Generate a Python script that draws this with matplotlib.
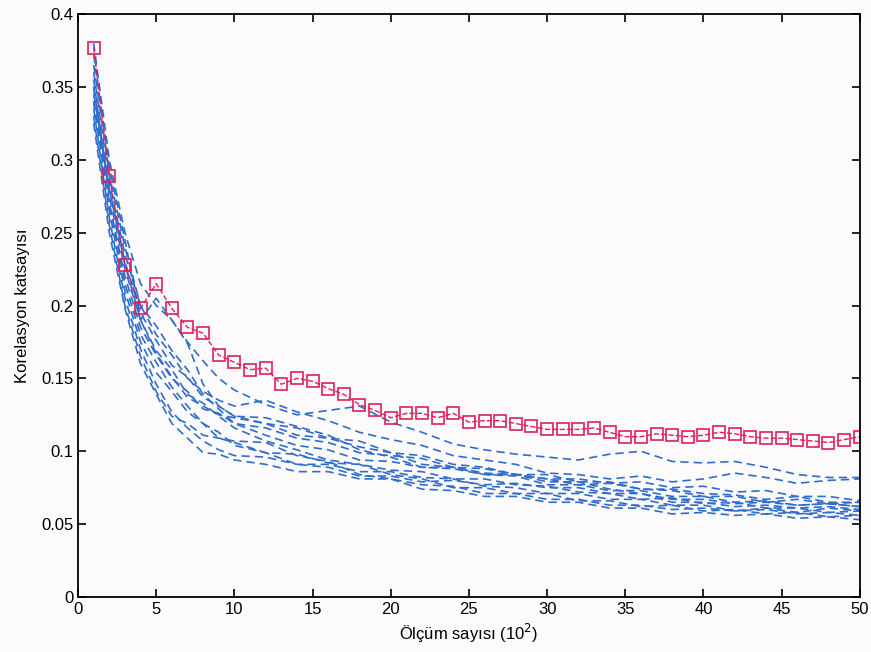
import matplotlib
matplotlib.use("Agg")
import matplotlib.pyplot as plt

# x positions (10^2 measurements) for the red series
red_x = list(range(1, 51))
red_y = [0.377, 0.289, 0.228, 0.198, 0.215, 0.198, 0.185, 0.181, 0.166, 0.161,
         0.156, 0.157, 0.146, 0.150, 0.148, 0.143, 0.139, 0.132, 0.128, 0.123,
         0.126, 0.126, 0.123, 0.126, 0.120, 0.121, 0.121, 0.119, 0.117, 0.115,
         0.115, 0.115, 0.116, 0.113, 0.110, 0.110, 0.112, 0.111, 0.110, 0.111,
         0.113, 0.112, 0.110, 0.109, 0.109, 0.108, 0.107, 0.106, 0.108, 0.110]

# blue runs, sampled at these x positions
blue_x = [1, 2, 3, 4, 5, 6, 7, 8, 9, 10, 12, 14, 16, 18, 20, 22, 24, 26, 28, 30,
          32, 34, 36, 38, 40, 42, 44, 46, 48, 50]

b1 = [0.372, 0.295, 0.245, 0.190, 0.205, 0.190, 0.175, 0.162, 0.150, 0.142, 0.132, 0.125, 0.128, 0.131, 0.120,
      0.113, 0.105, 0.101, 0.098, 0.096, 0.094, 0.098, 0.100, 0.093, 0.092, 0.093, 0.089, 0.084, 0.082, 0.082]
b2 = [0.360, 0.285, 0.235, 0.200, 0.180, 0.166, 0.150, 0.141, 0.135, 0.131, 0.135, 0.127, 0.121, 0.113, 0.108,
      0.104, 0.097, 0.094, 0.091, 0.085, 0.084, 0.081, 0.083, 0.079, 0.081, 0.085, 0.082, 0.078, 0.080, 0.081]
b3 = [0.350, 0.270, 0.220, 0.185, 0.166, 0.150, 0.141, 0.129, 0.126, 0.119, 0.116, 0.109, 0.106, 0.099, 0.097,
      0.095, 0.089, 0.088, 0.084, 0.081, 0.077, 0.078, 0.074, 0.074, 0.071, 0.070, 0.067, 0.069, 0.065, 0.065]
b4 = [0.380, 0.300, 0.250, 0.215, 0.200, 0.190, 0.174, 0.146, 0.131, 0.124, 0.123, 0.117, 0.111, 0.101, 0.096,
      0.089, 0.088, 0.084, 0.083, 0.077, 0.077, 0.073, 0.073, 0.069, 0.069, 0.065, 0.066, 0.063, 0.064, 0.062]
b5 = [0.340, 0.265, 0.210, 0.175, 0.154, 0.141, 0.127, 0.119, 0.109, 0.106, 0.099, 0.098, 0.092, 0.091, 0.087,
      0.086, 0.081, 0.081, 0.077, 0.076, 0.072, 0.071, 0.067, 0.068, 0.064, 0.065, 0.061, 0.061, 0.058, 0.059]
b6 = [0.335, 0.260, 0.205, 0.170, 0.146, 0.127, 0.116, 0.107, 0.101, 0.097, 0.096, 0.091, 0.091, 0.086, 0.086,
      0.082, 0.081, 0.076, 0.075, 0.071, 0.071, 0.067, 0.067, 0.063, 0.063, 0.059, 0.060, 0.057, 0.058, 0.056]
b7 = [0.355, 0.275, 0.225, 0.190, 0.169, 0.156, 0.139, 0.133, 0.124, 0.116, 0.107, 0.101, 0.094, 0.091, 0.084,
      0.081, 0.075, 0.075, 0.071, 0.071, 0.066, 0.066, 0.062, 0.063, 0.059, 0.060, 0.057, 0.058, 0.055, 0.056]
b8 = [0.345, 0.280, 0.230, 0.195, 0.176, 0.159, 0.151, 0.137, 0.131, 0.124, 0.119, 0.111, 0.109, 0.103, 0.099,
      0.091, 0.089, 0.084, 0.084, 0.081, 0.081, 0.078, 0.079, 0.075, 0.076, 0.072, 0.073, 0.069, 0.069, 0.066]
b9 = [0.330, 0.255, 0.200, 0.165, 0.141, 0.124, 0.119, 0.111, 0.109, 0.107, 0.106, 0.097, 0.093, 0.084, 0.081,
      0.077, 0.076, 0.071, 0.071, 0.067, 0.067, 0.063, 0.063, 0.060, 0.061, 0.059, 0.061, 0.058, 0.061, 0.059]
b10 = [0.365, 0.290, 0.240, 0.200, 0.186, 0.169, 0.156, 0.139, 0.129, 0.119, 0.111, 0.104, 0.101, 0.094, 0.093,
       0.089, 0.089, 0.085, 0.084, 0.079, 0.079, 0.074, 0.071, 0.065, 0.065, 0.062, 0.063, 0.061, 0.062, 0.060]
b11 = [0.340, 0.270, 0.215, 0.180, 0.161, 0.144, 0.131, 0.119, 0.113, 0.104, 0.099, 0.091, 0.089, 0.083, 0.083,
       0.079, 0.080, 0.077, 0.078, 0.075, 0.075, 0.071, 0.071, 0.067, 0.067, 0.064, 0.065, 0.063, 0.064, 0.062]
b12 = [0.350, 0.280, 0.228, 0.190, 0.167, 0.151, 0.137, 0.131, 0.125, 0.123, 0.119, 0.116, 0.109, 0.107, 0.099,
       0.097, 0.091, 0.089, 0.084, 0.084, 0.079, 0.079, 0.074, 0.073, 0.069, 0.069, 0.065, 0.067, 0.064, 0.065]
b13 = [0.325, 0.250, 0.198, 0.160, 0.139, 0.119, 0.109, 0.099, 0.098, 0.094, 0.091, 0.086, 0.086, 0.081, 0.081,
       0.074, 0.073, 0.069, 0.069, 0.065, 0.065, 0.061, 0.061, 0.057, 0.058, 0.056, 0.057, 0.054, 0.055, 0.053]
blue_runs = [b1, b2, b3, b4, b5, b6, b7, b8, b9, b10, b11, b12, b13]

plt.rcParams['font.family'] = ['Liberation Sans', 'DejaVu Sans']

fig = plt.figure(figsize=(8.71, 6.52), dpi=100, facecolor='#fcfafb')
ax = fig.add_axes([0.0896, 0.0844, 0.8975, 0.894])
ax.set_facecolor('#fcfafb')

for run in blue_runs:
    ax.plot(blue_x, run, linestyle='--', color='#2f6dcc', linewidth=1.2, dashes=(5, 3))

ax.plot(red_x, red_y, linestyle='--', color='#e0205a', linewidth=1.0,
        marker='s', markersize=9, markerfacecolor='none', markeredgecolor='#e0205a',
        markeredgewidth=1.2)

ax.set_xlim(0, 50)
ax.set_ylim(0, 0.4)
ax.set_xticks(range(0, 51, 5))
ax.set_yticks([0, 0.05, 0.1, 0.15, 0.2, 0.25, 0.3, 0.35, 0.4])
ax.set_yticklabels(['0', '0.05', '0.1', '0.15', '0.2', '0.25', '0.3', '0.35', '0.4'])
ax.tick_params(direction='in', top=True, right=True, labelsize=12, length=6, width=1.2)
for s in ax.spines.values():
    s.set_linewidth(1.3)

ax.set_xlabel('Ölçüm sayısı (10$^2$)', fontsize=12, labelpad=4)
ax.set_ylabel('Korelasyon katsayısı', fontsize=12, labelpad=8)

plt.savefig('out.png', dpi=100, facecolor=fig.get_facecolor())
